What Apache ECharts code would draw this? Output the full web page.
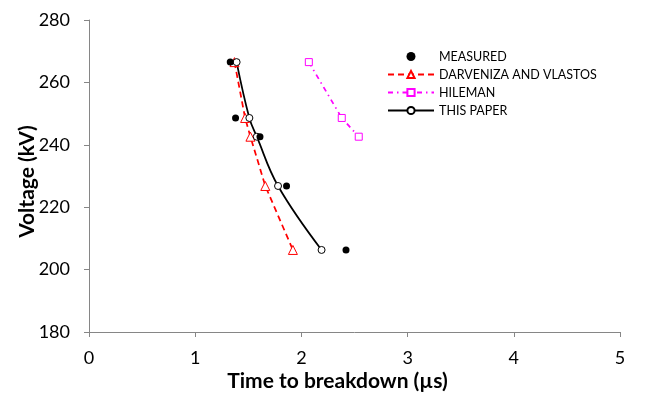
<!DOCTYPE html>
<html>
<head>
<meta charset="utf-8">
<script src="https://cdn.jsdelivr.net/npm/echarts@6/dist/echarts.min.js"></script>
<style>html,body{margin:0;padding:0;background:#fff}#c{width:647px;height:394px}</style>
</head>
<body>
<div id="c"></div>
<script>
const voltages = [266.5, 248.6, 242.6, 226.8, 206.3];
const measuredT = [1.33, 1.38, 1.61, 1.86, 2.42];
const darvenizaT = [1.37, 1.47, 1.52, 1.66, 1.92];
const hilemanV = [266.5, 248.6, 242.6];
const hilemanT = [2.07, 2.38, 2.54];
const thisPaperT = [1.39, 1.51, 1.58, 1.78, 2.19];
const xTicks = [0, 1, 2, 3, 4, 5];
const yTicks = [180, 200, 220, 240, 260, 280];

const pairs = (xs, ys) => xs.map((x, i) => [x, ys[i]]);
const font = 'Lato, "Open Sans", sans-serif';
const axisColor = '#868686';

const chart = echarts.init(document.getElementById('c'));
chart.setOption({
  animation: false,
  textStyle: { fontFamily: font },
  grid: { left: 89, right: 27, top: 20, bottom: 62, outerBoundsMode: 'none', containLabel: false },
  legend: {
    orient: 'vertical',
    left: 382, top: 45,
    itemWidth: 46, itemHeight: 9, itemGap: 5,
    textStyle: { fontFamily: font, fontSize: 12.5, color: '#000' },
    data: ['MEASURED', 'DARVENIZA AND VLASTOS', 'HILEMAN', 'THIS PAPER']
  },
  xAxis: {
    type: 'value', min: xTicks[0], max: xTicks[xTicks.length - 1], interval: 1,
    name: 'Time to breakdown (µs)', nameLocation: 'middle', nameGap: 39, nameMoveOverlap: false,
    nameTextStyle: { fontFamily: font, fontSize: 21, fontWeight: 'bold', color: '#000', padding: [0, 34, 0, 0] },
    axisLine: { lineStyle: { color: axisColor } },
    axisTick: { show: true, length: 5, lineStyle: { color: axisColor } },
    axisLabel: { fontSize: 18, color: '#000', margin: 17, fontFamily: font },
    splitLine: { show: false }
  },
  yAxis: {
    type: 'value', min: yTicks[0], max: yTicks[yTicks.length - 1], interval: 20,
    name: 'Voltage (kV)', nameLocation: 'middle', nameGap: 51, nameMoveOverlap: false,
    nameTextStyle: { fontFamily: font, fontSize: 21, fontWeight: 'bold', color: '#000', padding: [0, 11, 0, 0] },
    axisLine: { show: true, lineStyle: { color: axisColor } },
    axisTick: { show: true, length: 5, lineStyle: { color: axisColor } },
    axisLabel: { fontSize: 18, color: '#000', margin: 19, fontFamily: font },
    splitLine: { show: false }
  },
  series: [
    {
      name: 'MEASURED', type: 'scatter', data: pairs(measuredT, voltages),
      symbol: 'circle', symbolSize: 7, itemStyle: { color: '#000', opacity: 1 }, z: 5
    },
    {
      name: 'DARVENIZA AND VLASTOS', type: 'line', data: pairs(darvenizaT, voltages),
      symbol: 'triangle', symbolSize: 9, showAllSymbol: true,
      lineStyle: { color: '#FF0000', width: 1.75, type: [6, 4] },
      itemStyle: { color: '#fff', borderColor: '#FF0000', borderWidth: 1 }
    },
    {
      name: 'HILEMAN', type: 'line', data: pairs(hilemanT, hilemanV),
      symbol: 'rect', symbolSize: 7,
      lineStyle: { color: '#FF00FF', width: 1.75, type: [5, 4, 1.5, 4] },
      itemStyle: { color: '#fff', borderColor: '#FF00FF', borderWidth: 1 }
    },
    {
      name: 'THIS PAPER', type: 'line', data: pairs(thisPaperT, voltages),
      symbol: 'circle', symbolSize: 7, smooth: 0.4,
      lineStyle: { color: '#000', width: 1.75 },
      itemStyle: { color: '#fff', borderColor: '#000', borderWidth: 1 }
    }
  ]
});
</script>
</body>
</html>
